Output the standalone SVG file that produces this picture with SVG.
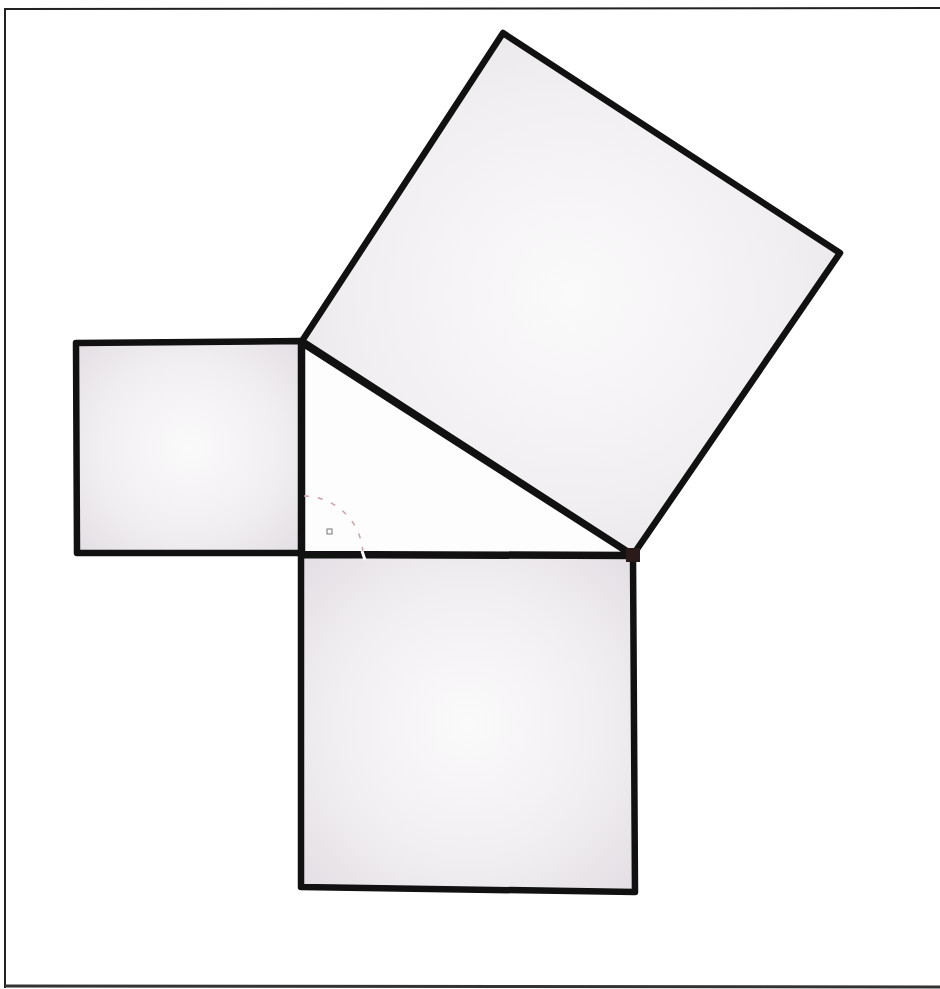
<svg xmlns="http://www.w3.org/2000/svg" width="940" height="989" viewBox="0 0 940 989">
<defs>
<radialGradient id="g" cx="0.5" cy="0.5" r="0.7">
<stop offset="0" stop-color="#fbfafb"/>
<stop offset="0.6" stop-color="#f1eef1"/>
<stop offset="1" stop-color="#e2dee3"/>
</radialGradient>
</defs>
<style>
.sq{fill:url(#g);stroke:#111;stroke-width:6.5;stroke-linejoin:round}
.tri{fill:#fdfdfd;stroke:#111;stroke-width:6.5;stroke-linejoin:round}
</style>
<rect x="0" y="0" width="940" height="989" fill="#fff"/>
<path d="M5 988 L5 9 L940 8" fill="none" stroke="#222" stroke-width="2"/>
<path d="M5 986 L940 987" fill="none" stroke="#333" stroke-width="3"/>
<g id="square-left"><polygon class="sq" points="76,343 301,341 301,553 77,553"/></g>
<g id="square-bottom"><polygon class="sq" points="301,555 633,556 635,892 301,887"/></g>
<g id="square-top"><polygon class="sq" points="302,341 503,33 840,253 633,555"/></g>
<g id="triangle"><polygon class="tri" points="302,343 302,554 632,555"/></g>
<g id="connectors">
<path d="M304 496 A60 60 0 0 1 363 555" fill="none" stroke="#c9a0a8" stroke-width="1.5" stroke-dasharray="5 9"/>
<line x1="362" y1="551" x2="365" y2="560" stroke="#fff" stroke-width="3"/>
<rect x="327" y="529" width="5" height="5" fill="none" stroke="#777" stroke-width="1"/>
<rect x="626" y="548" width="14" height="14" fill="#2a1a1a"/>
</g>
</svg>
